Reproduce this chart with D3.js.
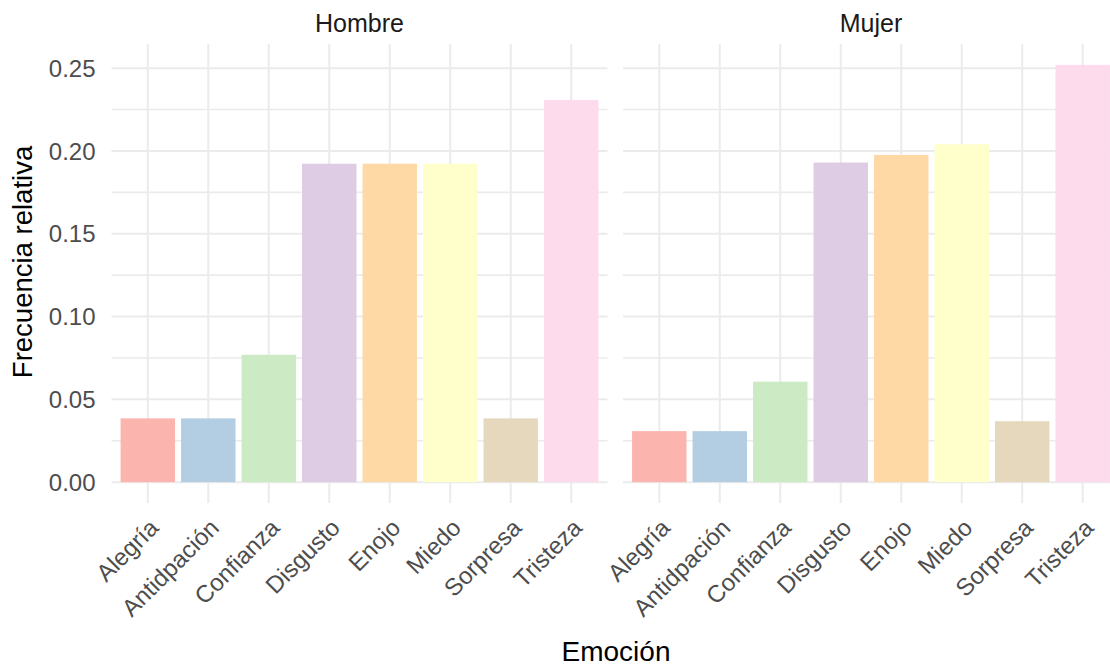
<!DOCTYPE html>
<html>
<head>
<meta charset="utf-8">
<script src="https://cdn.jsdelivr.net/npm/d3@7"></script>
<style>
  html, body { margin: 0; padding: 0; background: #ffffff; }
  svg { display: block; }
  text { font-family: "Liberation Sans", Arial, sans-serif; }
</style>
</head>
<body>
<svg id="chart" width="1110" height="668"></svg>
<script>
// ---- data ----
const categories = ["Alegría", "Antidpación", "Confianza", "Disgusto", "Enojo", "Miedo", "Sorpresa", "Tristeza"];
const facets = ["Hombre", "Mujer"];
const hombreValues = [0.0385, 0.0385, 0.0769, 0.1923, 0.1923, 0.1923, 0.0385, 0.2308];
const mujerValues  = [0.0308, 0.0308, 0.0607, 0.1930, 0.1976, 0.2041, 0.0368, 0.2520];
const yTicks = [0.00, 0.05, 0.10, 0.15, 0.20, 0.25];
const yMinorTicks = [0.025, 0.075, 0.125, 0.175, 0.225];
const palette = ["#FBB4AE", "#B3CDE3", "#CCEBC5", "#DECBE4", "#FED9A6", "#FFFFCC", "#E5D8BD", "#FDDAEC"];
const seriesByFacet = { "Hombre": hombreValues, "Mujer": mujerValues };

// ---- layout ----
const svg = d3.select("#chart");
const panelTop = 44, panelBottom = 503;
const panelWidth = 496;
const panelLefts = [111.5, 623];

const allVals = hombreValues.concat(mujerValues);
const yMax = d3.max(allVals) * 1.05;
const yMin = -d3.max(allVals) * 0.05;
const y = d3.scaleLinear().domain([yMin, yMax]).range([panelBottom, panelTop]);

const color = d3.scaleOrdinal().domain(categories).range(palette);

facets.forEach((facet, fi) => {
  const x0 = panelLefts[fi];
  // discrete scale with ggplot expansion 0.6 on each side
  const x = d3.scalePoint().domain(categories)
    .range([x0 + panelWidth * 0.6 / 8.2, x0 + panelWidth - panelWidth * 0.6 / 8.2]);
  const step = x.step();
  const g = svg.append("g");

  // minor horizontal grid
  g.selectAll("line.ymin").data(yMinorTicks).enter().append("line")
    .attr("x1", x0).attr("x2", x0 + panelWidth)
    .attr("y1", d => y(d)).attr("y2", d => y(d))
    .attr("stroke", "#EBEBEB").attr("stroke-width", 1.6);
  // major horizontal grid
  g.selectAll("line.ymaj").data(yTicks).enter().append("line")
    .attr("x1", x0).attr("x2", x0 + panelWidth)
    .attr("y1", d => y(d)).attr("y2", d => y(d))
    .attr("stroke", "#EBEBEB").attr("stroke-width", 2);
  // vertical grid
  g.selectAll("line.xmaj").data(categories).enter().append("line")
    .attr("x1", d => x(d)).attr("x2", d => x(d))
    .attr("y1", panelTop).attr("y2", panelBottom)
    .attr("stroke", "#EBEBEB").attr("stroke-width", 2);

  // bars
  const vals = seriesByFacet[facet];
  g.selectAll("rect.bar").data(categories.map((c, i) => ({ c, v: vals[i] }))).enter().append("rect")
    .attr("x", d => x(d.c) - step * 0.45)
    .attr("width", step * 0.9)
    .attr("y", d => y(d.v))
    .attr("height", d => y(0) - y(d.v))
    .attr("fill", d => color(d.c));

  // strip label
  g.append("text")
    .attr("x", x0 + panelWidth / 2).attr("y", 31.5)
    .attr("text-anchor", "middle")
    .attr("font-size", 25).attr("fill", "#1A1A1A")
    .text(facet);

  // x tick labels
  g.selectAll("text.xl").data(categories).enter().append("text")
    .attr("transform", d => `translate(${x(d)},${517}) rotate(-45)`)
    .attr("text-anchor", "end")
    .attr("dy", "0.72em")
    .attr("font-size", 24).attr("fill", "#4D4D4D")
    .text(d => d);
});

// y axis labels (left panel only)
svg.append("g").selectAll("text").data(yTicks).enter().append("text")
  .attr("x", 95.5).attr("y", d => y(d))
  .attr("dy", "0.36em")
  .attr("text-anchor", "end")
  .attr("font-size", 24).attr("fill", "#4D4D4D")
  .text(d => d3.format(".2f")(d));

// axis titles
svg.append("text")
  .attr("x", 616).attr("y", 661)
  .attr("text-anchor", "middle")
  .attr("font-size", 28).attr("fill", "#000000")
  .text("Emoción");

svg.append("text")
  .attr("transform", "translate(32,262) rotate(-90)")
  .attr("text-anchor", "middle")
  .attr("font-size", 27.5).attr("fill", "#000000")
  .text("Frecuencia relativa");
</script>
</body>
</html>
